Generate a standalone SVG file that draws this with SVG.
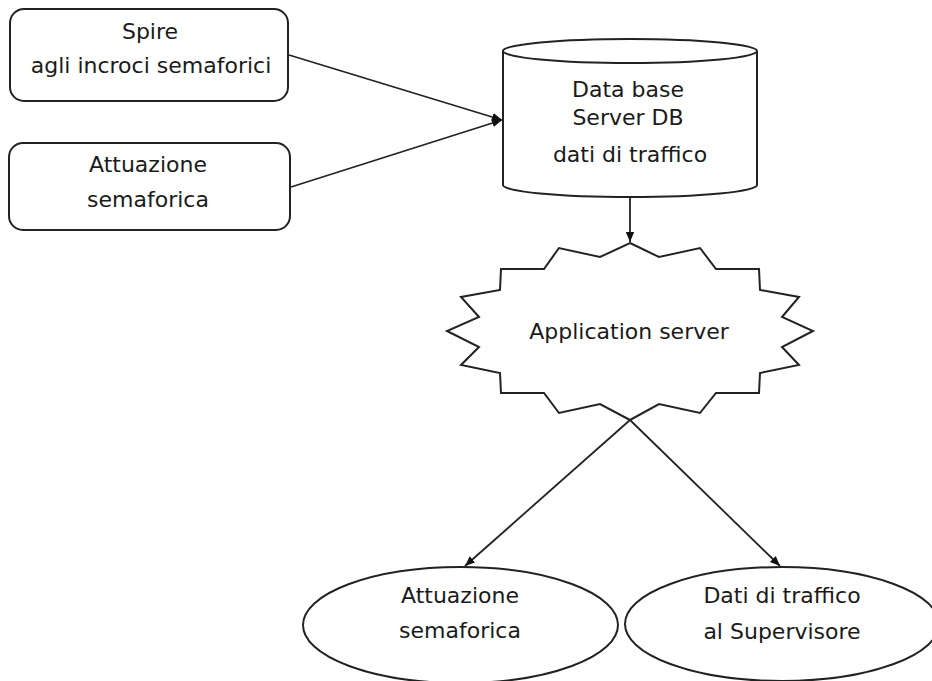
<svg xmlns="http://www.w3.org/2000/svg" width="932" height="681" viewBox="0 0 932 681">
  <style>
    .shape { fill: #ffffff; stroke: #222222; stroke-width: 2; }
    .edge { fill: none; stroke: #222222; stroke-width: 1.8; }
    .label { font-family: "DejaVu Sans", Verdana, sans-serif; font-size: 22px; fill: #1a1a1a; text-anchor: middle; }
  </style>
  <defs>
    <marker id="arrow" viewBox="0 0 10 10" refX="10" refY="5" markerWidth="10" markerHeight="10" markerUnits="userSpaceOnUse" orient="auto">
      <path d="M0,0.8 L10,5 L0,9.2 Z" fill="#111111"/>
    </marker>
  </defs>

  <rect width="932" height="681" fill="#ffffff"/>

  <!-- connectors -->
  <g id="connectors">
    <line class="edge" x1="289" y1="55" x2="502" y2="120" marker-end="url(#arrow)"/>
    <line class="edge" x1="291" y1="187" x2="502" y2="120" marker-end="url(#arrow)"/>
    <line class="edge" x1="630" y1="197" x2="630" y2="242" marker-end="url(#arrow)"/>
    <line class="edge" x1="630" y1="420" x2="465" y2="566" marker-end="url(#arrow)"/>
    <line class="edge" x1="630" y1="420" x2="780" y2="566" marker-end="url(#arrow)"/>
  </g>

  <!-- input: induction loops -->
  <g id="spire">
    <rect class="shape" x="10" y="9" width="278" height="92" rx="14" ry="14"/>
    <text class="label" x="150" y="39">Spire</text>
    <text class="label" x="151" y="73">agli incroci semaforici</text>
  </g>

  <!-- input: signal actuation -->
  <g id="attuazione-in">
    <rect class="shape" x="9" y="143" width="281" height="87" rx="14" ry="14"/>
    <text class="label" x="148" y="172">Attuazione</text>
    <text class="label" x="148" y="207">semaforica</text>
  </g>

  <!-- database cylinder -->
  <g id="database">
    <path class="shape" d="M503,51 L503,185 A127,12 0 0 0 757,185 L757,51"/>
    <ellipse class="shape" cx="630" cy="51" rx="127" ry="12"/>
    <text class="label" x="628" y="97">Data base</text>
    <text class="label" x="628" y="125">Server DB</text>
    <text class="label" x="630" y="162">dati di traffico</text>
  </g>

  <!-- application server starburst -->
  <g id="app-server">
    <polygon class="shape" points="630,243 659,257 700,248 716,269 759,269 760,290 799,297 782,317 813,331 782,347 799,365 760,373 759,393 716,393 700,413 659,404 630,420 600,404 559,413 544,393 501,393 500,373 461,365 479,347 447,331 479,317 461,297 500,290 501,269 544,269 559,248 600,257"/>
    <text class="label" x="629" y="339">Application server</text>
  </g>

  <!-- output: signal actuation -->
  <g id="attuazione-out">
    <ellipse class="shape" cx="460.5" cy="625" rx="157.5" ry="58"/>
    <text class="label" x="460" y="603">Attuazione</text>
    <text class="label" x="460" y="638">semaforica</text>
  </g>

  <!-- output: traffic data to supervisor -->
  <g id="supervisore">
    <ellipse class="shape" cx="782" cy="624" rx="157" ry="57"/>
    <text class="label" x="782" y="603">Dati di traffico</text>
    <text class="label" x="782" y="639">al Supervisore</text>
  </g>
</svg>
